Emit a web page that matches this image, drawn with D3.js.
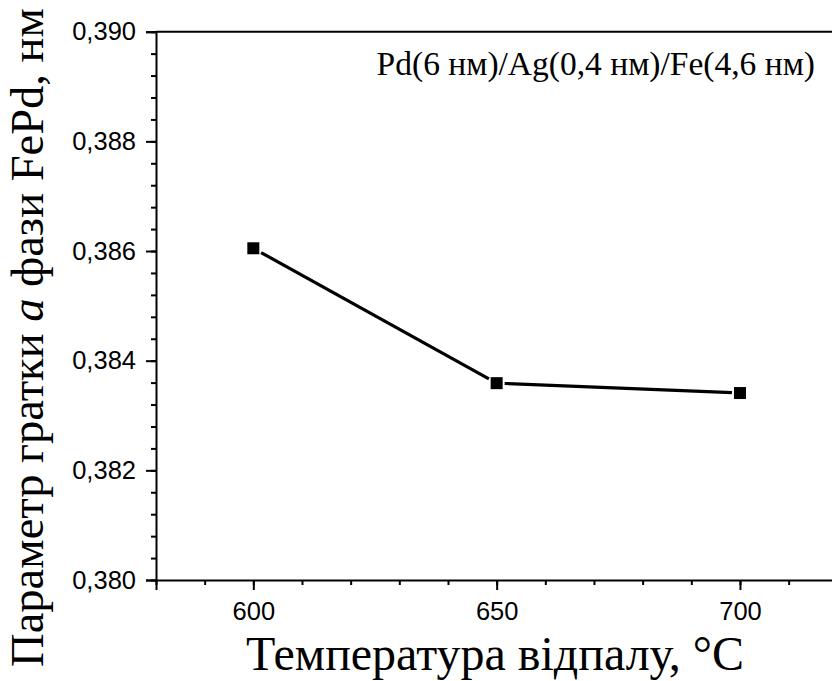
<!DOCTYPE html>
<html>
<head>
<meta charset="utf-8">
<script src="https://cdn.jsdelivr.net/npm/d3@7"></script>
<style>
  html, body { margin: 0; padding: 0; background: #fff; }
  svg { display: block; }
  .serif { font-family: "Liberation Serif", "Times New Roman", Times, serif; }
  .sans { font-family: "Liberation Sans", Arial, Helvetica, sans-serif; }
</style>
</head>
<body>
<div id="chart"></div>
<script>
// Annealing temperature (°C) and FePd lattice parameter a (nm)
const temperatures = [600, 650, 700];
const latticeA = [0.38605, 0.38359, 0.38341];

const xTickValues = [600, 650, 700];
const yTickValues = [0.380, 0.382, 0.384, 0.386, 0.388, 0.390];

const sampleLabel = "Pd(6 нм)/Ag(0,4 нм)/Fe(4,6 нм)";
const xTitle = "Температура відпалу, °C";

const W = 832, H = 681;
const margin = { left: 156, top: 31.7, right: 837.3, bottom: 580 };

const svg = d3.select("#chart").append("svg")
  .attr("width", W).attr("height", H);

const x = d3.scaleLinear().domain([580, 720]).range([margin.left, margin.right]);
const y = d3.scaleLinear().domain([0.380, 0.390]).range([margin.bottom, margin.top]);

const fmt = v => d3.format(".3f")(v).replace(".", ",");

// frame: top and right edges
svg.append("path")
  .attr("d", `M${margin.left},${margin.top}H${margin.right}V${margin.bottom}`)
  .attr("fill", "none").attr("stroke", "#000").attr("stroke-width", 2);

// minor ticks
const xMinor = d3.range(580, 721, 10);
const yMinor = d3.range(0, 26).map(i => 0.380 + i * 0.0004);

const xAxis = svg.append("g").attr("transform", `translate(0,${margin.bottom})`);
xAxis.call(d3.axisBottom(x).tickValues(xMinor).tickSize(5).tickFormat(""));
xAxis.call(g => g.selectAll(".domain").remove());
const xMajor = svg.append("g").attr("transform", `translate(0,${margin.bottom})`)
  .call(d3.axisBottom(x).tickValues(xTickValues).tickSize(10).tickPadding(12).tickFormat(d3.format("d")));

const yAxis = svg.append("g").attr("transform", `translate(${margin.left},0)`);
yAxis.call(d3.axisLeft(y).tickValues(yMinor).tickSize(5).tickFormat(""));
yAxis.call(g => g.selectAll(".domain").remove());
const yMajor = svg.append("g").attr("transform", `translate(${margin.left},0)`)
  .call(d3.axisLeft(y).tickValues(yTickValues).tickSize(10).tickPadding(10).tickFormat(fmt));

svg.selectAll(".tick line").attr("stroke", "#000").attr("stroke-width", 2);
svg.selectAll(".domain").attr("stroke", "#000").attr("stroke-width", 2);
[xMajor, yMajor].forEach(g => {
  g.attr("font-family", null).attr("font-size", null);
  g.selectAll(".tick text").attr("class", "sans")
    .style("font-size", "25.5px").attr("fill", "#000");
});
xMajor.selectAll(".tick text").attr("dy", "0.72em");

// data line, with small gaps around markers
const pts = temperatures.map((t, i) => [x(t), y(latticeA[i])]);
const half = 6, gap = 2;
for (let i = 0; i < pts.length - 1; i++) {
  const [x0, y0] = pts[i], [x1, y1] = pts[i + 1];
  const dx = x1 - x0, dy = y1 - y0, len = Math.hypot(dx, dy);
  const ux = dx / len, uy = dy / len;
  // distance from square centre to its edge along the segment direction
  const edge = half / Math.max(Math.abs(ux), Math.abs(uy)) + gap;
  svg.append("line")
    .attr("x1", x0 + ux * edge).attr("y1", y0 + uy * edge)
    .attr("x2", x1 - ux * edge).attr("y2", y1 - uy * edge)
    .attr("stroke", "#000").attr("stroke-width", 3.2);
}

svg.selectAll("rect.pt").data(temperatures).enter().append("rect")
  .attr("class", "pt")
  .attr("x", (d, i) => x(d) - half).attr("y", (d, i) => y(latticeA[i]) - half)
  .attr("width", half * 2).attr("height", half * 2)
  .attr("fill", "#000");

// sample label
svg.append("text")
  .attr("class", "serif")
  .attr("x", 815).attr("y", 75)
  .attr("text-anchor", "end")
  .style("font-size", "33.5px").attr("fill", "#000")
  .text(sampleLabel);

// x title
svg.append("text")
  .attr("class", "serif")
  .attr("x", 495).attr("y", 670)
  .attr("text-anchor", "middle")
  .style("font-size", "48px").attr("fill", "#000")
  .text(xTitle);

// y title (with italic a)
const yt = svg.append("text")
  .attr("class", "serif")
  .attr("transform", "translate(43,337.5) rotate(-90)")
  .attr("text-anchor", "middle")
  .style("font-size", "46.5px").attr("fill", "#000");
yt.append("tspan").text("Параметр гратки ");
yt.append("tspan").style("font-style", "italic").text("a");
yt.append("tspan").text(" фази FePd, нм");
</script>
</body>
</html>
